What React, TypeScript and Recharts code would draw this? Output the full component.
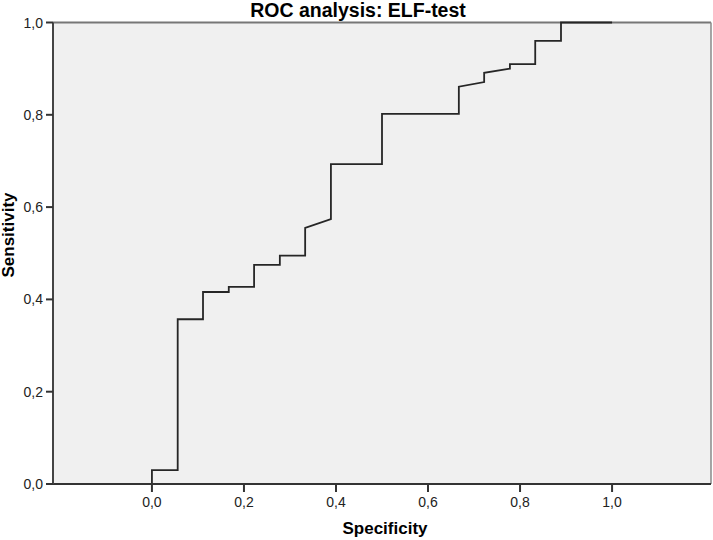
import React from "react";
import { LineChart, Line, XAxis, YAxis, ReferenceArea, ReferenceLine } from "recharts";

// ROC curve values (x = specificity axis, y = sensitivity)
const specificity = [0, 0, 0.056, 0.056, 0.111, 0.111, 0.167, 0.167, 0.222, 0.222, 0.278, 0.278, 0.333, 0.333, 0.389, 0.389, 0.5, 0.5, 0.667, 0.667, 0.722, 0.722, 0.778, 0.778, 0.833, 0.833, 0.889, 0.889, 1];
const sensitivity = [0, 0.03, 0.03, 0.357, 0.357, 0.416, 0.416, 0.427, 0.427, 0.475, 0.475, 0.495, 0.495, 0.555, 0.574, 0.693, 0.693, 0.802, 0.802, 0.861, 0.871, 0.891, 0.9, 0.91, 0.91, 0.96, 0.96, 1, 1];

const xTicks = [0, 0.2, 0.4, 0.6, 0.8, 1.0];
const yTicks = [0, 0.2, 0.4, 0.6, 0.8, 1.0];
const xDomain: [number, number] = [-0.215, 1.215];
const yDomain: [number, number] = [0, 1];

const titleText = "ROC analysis: ELF-test";
const xLabel = "Specificity";
const yLabel = "Sensitivity";
const aucText = "AUC: 0.68";

const data = specificity.map((x, i) => ({ x, y: sensitivity[i] }));

const FONT = "'Liberation Sans', Arial, sans-serif";
const TICK_FS = 14;
const fmt = (v: number) => v.toFixed(1).replace(".", ",");

const XTick = (props: any) => {
  const { x, y, payload } = props;
  return (
    <text x={x} y={y + 11} textAnchor="middle" fontFamily={FONT} fontSize={TICK_FS} fill="#222">
      {fmt(payload.value)}
    </text>
  );
};

const YTick = (props: any) => {
  const { x, y, payload } = props;
  return (
    <text x={x} y={y + 5} textAnchor="end" fontFamily={FONT} fontSize={TICK_FS} fill="#222">
      {fmt(payload.value)}
    </text>
  );
};

export default function App() {
  return (
    <div style={{ position: "absolute", left: 0, top: 0, width: 713, height: 540, background: "#fff" }}>
      <LineChart
        width={713}
        height={540}
        data={data}
        margin={{ top: 22.5, right: 2, bottom: 26, left: 0 }}
        style={{ fontFamily: FONT }}
      >
        <ReferenceArea x1={xDomain[0]} x2={xDomain[1]} y1={0} y2={1} fill="#f0f0f0" fillOpacity={1} stroke="none" ifOverflow="visible" />
        <ReferenceLine y={1} stroke="#777" strokeWidth={2} ifOverflow="visible" />
        <ReferenceLine x={xDomain[1]} stroke="#8a8a8a" strokeWidth={1.5} ifOverflow="visible" />
        <XAxis
          type="number"
          dataKey="x"
          domain={xDomain}
          ticks={xTicks}
          allowDataOverflow
          height={30}
          tickSize={8}
          tickMargin={4}
          axisLine={{ stroke: "#333", strokeWidth: 2 }}
          tickLine={{ stroke: "#333", strokeWidth: 2 }}
          tick={<XTick />}
        />
        <YAxis
          type="number"
          domain={yDomain}
          ticks={yTicks}
          width={53}
          tickSize={7}
          tickMargin={3}
          axisLine={{ stroke: "#444", strokeWidth: 2 }}
          tickLine={{ stroke: "#333", strokeWidth: 2 }}
          tick={<YTick />}
        />
        <Line
          type="linear"
          dataKey="y"
          stroke="#262626"
          strokeWidth={1.8}
          dot={false}
          activeDot={false}
          isAnimationActive={false}
        />
        <text x={358} y={17} textAnchor="middle" fontFamily={FONT} fontWeight="bold" fontSize={19.5} fill="#000">
          {titleText}
        </text>
        <text x={385} y={534} textAnchor="middle" fontFamily={FONT} fontWeight="bold" fontSize={17} fill="#000">
          {xLabel}
        </text>
        <text x={14} y={235} transform="rotate(-90 14 235)" textAnchor="middle" fontFamily={FONT} fontWeight="bold" fontSize={17} fill="#000">
          {yLabel}
        </text>
        <text x={487.5} y={357} textAnchor="middle" fontFamily={FONT} fontSize={17} fill="#333">
          {aucText}
        </text>
      </LineChart>
    </div>
  );
}
